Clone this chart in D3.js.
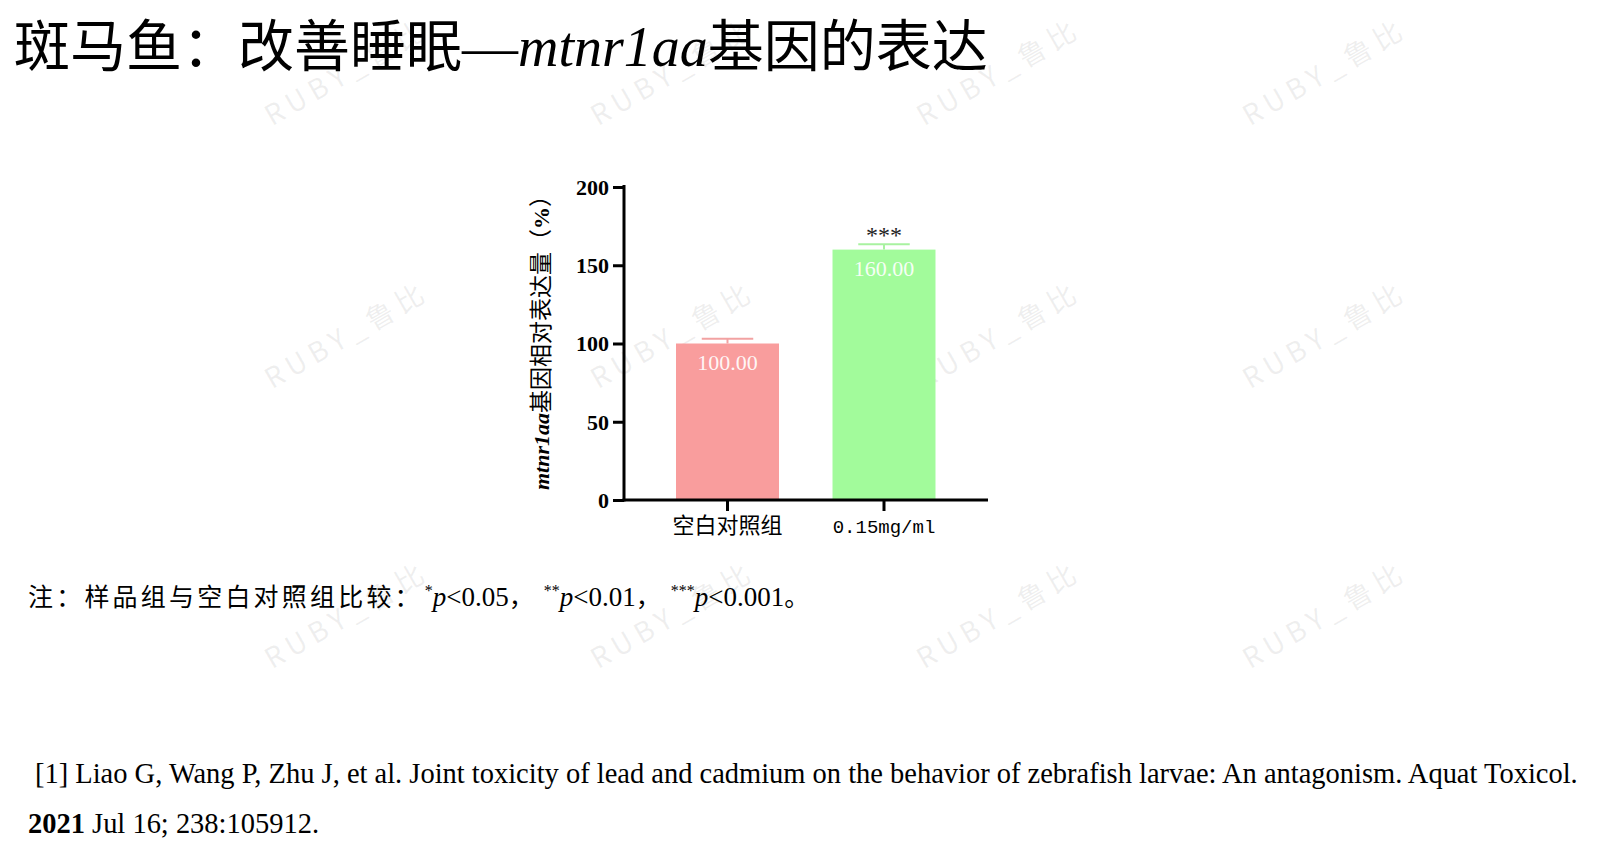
<!DOCTYPE html>
<html>
<head>
<meta charset="utf-8">
<script src="https://cdn.jsdelivr.net/npm/d3@7/dist/d3.min.js"></script>
<style>
  html, body { margin: 0; padding: 0; background: #fff; }
  svg { display: block; }
</style>
</head>
<body>
<svg id="chart" width="1600" height="862"></svg>
<script>
// ---- data ----
const categories = ["空白对照组", "0.15mg/ml"];
const values = [100, 160];
const errorsUp = [3, 3.4];
const valueLabels = ["100.00", "160.00"];
const sigLabels = ["", "***"];
const yTicks = [0, 50, 100, 150, 200];
const barColors = ["#F99D9D", "#A2FB9B"];
const errColors = ["#F2A2A2", "#A8F2A0"];

const SERIF = "'Liberation Serif', 'Times New Roman', 'Noto Sans CJK SC', serif";
const CJK = "'Noto Sans CJK SC', 'Liberation Serif', sans-serif";

const svg = d3.select("#chart");
svg.append("rect").attr("width", 1600).attr("height", 862).attr("fill", "#fff");

// ---- watermark (drawn first, faint) ----
const wmX = [347, 673, 999, 1325];
const wmY = [72, 335, 615];
const wm = svg.append("g").attr("pointer-events", "none");
wmY.forEach(yy => wmX.forEach(xx => {
  wm.append("text")
    .attr("transform", `translate(${xx},${yy}) rotate(-30)`)
    .attr("text-anchor", "middle").attr("dy", "0.35em")
    .attr("font-family", "'Noto Sans CJK SC', 'Noto Sans', sans-serif")
    .attr("font-size", 28).attr("letter-spacing", 6)
    .attr("fill", "#777").attr("fill-opacity", 0.12)
    .text("RUBY_鲁比");
}));

// ---- title ----
const title = svg.append("text")
  .attr("x", 14).attr("y", 66)
  .attr("font-family", SERIF).attr("font-size", 56).attr("fill", "#000");
title.append("tspan").attr("font-family", CJK).text("斑马鱼：改善睡眠");
title.append("tspan").text("—");
title.append("tspan").attr("font-style", "italic").text("mtnr1aa");
title.append("tspan").attr("font-family", CJK).text("基因的表达");

// ---- scales ----
const y = d3.scaleLinear().domain([0, 200]).range([500, 187]);
const x = d3.scaleBand().domain(categories).range([649.25, 962.25])
  .paddingInner(0.342).paddingOuter(0.171);

const g = svg.append("g");

// bars
g.selectAll("rect.bar").data(values).join("rect")
  .attr("class", "bar")
  .attr("x", (d, i) => x(categories[i]))
  .attr("width", x.bandwidth())
  .attr("y", d => y(d))
  .attr("height", d => y(0) - y(d))
  .attr("fill", (d, i) => barColors[i]);

// error bars + labels
const capW = x.bandwidth() * 0.5;
values.forEach((v, i) => {
  const cx = x(categories[i]) + x.bandwidth() / 2;
  g.append("line").attr("x1", cx).attr("x2", cx)
    .attr("y1", y(v)).attr("y2", y(v + errorsUp[i]))
    .attr("stroke", errColors[i]).attr("stroke-width", 2);
  g.append("line").attr("x1", cx - capW / 2).attr("x2", cx + capW / 2)
    .attr("y1", y(v + errorsUp[i])).attr("y2", y(v + errorsUp[i]))
    .attr("stroke", errColors[i]).attr("stroke-width", 2);
  g.append("text").attr("x", cx).attr("y", y(v) + 26)
    .attr("text-anchor", "middle").attr("font-family", SERIF)
    .attr("font-size", 22).attr("fill", "#fff").attr("fill-opacity", 0.92)
    .text(valueLabels[i]);
  if (sigLabels[i]) {
    g.append("text").attr("x", cx).attr("y", y(v + errorsUp[i]) - 1)
      .attr("text-anchor", "middle").attr("font-family", SERIF)
      .attr("font-size", 24).attr("fill", "#222").text(sigLabels[i]);
  }
});

// y axis
const yAxis = svg.append("g").attr("transform", "translate(624,0)")
  .call(d3.axisLeft(y).tickValues(yTicks).tickSize(11).tickSizeOuter(0).tickPadding(4));
yAxis.select(".domain").remove();
yAxis.selectAll(".tick line").attr("stroke", "#000").attr("stroke-width", 3);
yAxis.selectAll(".tick text").attr("font-family", SERIF).attr("font-size", 22)
  .attr("font-weight", "bold").attr("fill", "#000").attr("dy", "0.34em");
svg.append("line").attr("x1", 624).attr("x2", 624)
  .attr("y1", y(0) + 1.5).attr("y2", y(200) - 2)
  .attr("stroke", "#000").attr("stroke-width", 3);

// x axis
const xAxis = svg.append("g").attr("transform", "translate(0,500)")
  .call(d3.axisBottom(x).tickSize(11).tickSizeOuter(0).tickPadding(6));
xAxis.select(".domain").remove();
xAxis.selectAll(".tick line").attr("stroke", "#000").attr("stroke-width", 3);
xAxis.selectAll(".tick text")
  .attr("y", 33).attr("dy", 0)
  .attr("fill", "#000")
  .attr("font-family", (d, i) => i === 0 ? CJK : "'Liberation Mono', 'DejaVu Sans Mono', monospace")
  .attr("font-size", (d, i) => i === 0 ? 22 : 19);
svg.append("line").attr("x1", 622.5).attr("x2", 988)
  .attr("y1", 500).attr("y2", 500)
  .attr("stroke", "#000").attr("stroke-width", 3);

// y axis title
const yt = svg.append("text")
  .attr("transform", "translate(541,337) rotate(-90)")
  .attr("text-anchor", "middle").attr("dy", "0.36em")
  .attr("font-family", SERIF).attr("font-size", 22).attr("fill", "#000");
yt.append("tspan").attr("font-style", "italic").attr("font-weight", "bold").text("mtnr1aa");
yt.append("tspan").attr("font-family", CJK).attr("font-size", 23).text("基因相对表达量（");
yt.append("tspan").attr("font-weight", "bold").text("%");
yt.append("tspan").attr("font-family", CJK).attr("font-size", 23).text("）");

// ---- note ----
const note = svg.append("text").attr("x", 28).attr("y", 606)
  .attr("font-family", SERIF).attr("font-size", 27).attr("fill", "#000");
note.append("tspan").attr("font-family", CJK).attr("font-size", 25)
  .attr("letter-spacing", 3.2).text("注：样品组与空白对照组比较：");
const pv = [["*", "0.05"], ["**", "0.01"], ["***", "0.001"]];
pv.forEach((p, i) => {
  note.append("tspan").attr("font-size", 16).attr("dy", -10).attr("dx", i === 0 ? 2 : 10).text(p[0]);
  note.append("tspan").attr("font-style", "italic").attr("dy", 10).text("p");
  note.append("tspan").text("<" + p[1]);
  note.append("tspan").attr("font-family", CJK).attr("font-size", 25)
    .text(i < 2 ? "，" : "。");
});

// ---- reference ----
const ref1 = svg.append("text").attr("x", 35).attr("y", 783)
  .attr("font-family", SERIF).attr("font-size", 28).attr("fill", "#000")
  .text("[1] Liao G, Wang P, Zhu J, et al. Joint toxicity of lead and cadmium on the behavior of zebrafish larvae: An antagonism. Aquat Toxicol.");
const w = ref1.node().getComputedTextLength();
const fs = 28 * 1543 / w;
ref1.attr("font-size", fs);
const ref2 = svg.append("text").attr("x", 28).attr("y", 833)
  .attr("font-family", SERIF).attr("font-size", fs).attr("fill", "#000");
ref2.append("tspan").attr("font-weight", "bold").text("2021");
ref2.append("tspan").text(" Jul 16; 238:105912.");
</script>
</body>
</html>
